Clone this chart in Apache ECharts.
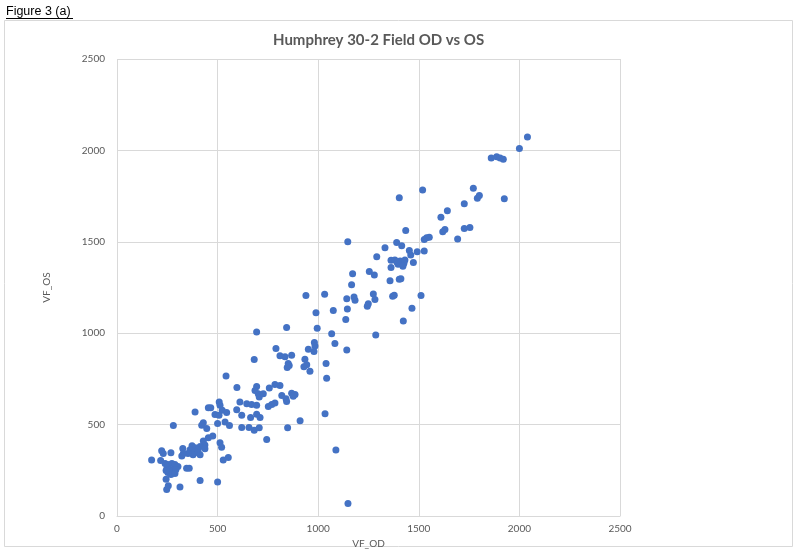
<!DOCTYPE html>
<html>
<head>
<meta charset="utf-8">
<script src="https://cdn.jsdelivr.net/npm/echarts@6/dist/echarts.min.js"></script>
<style>
  html, body { margin: 0; padding: 0; background: #fff; }
  #chart { width: 800px; height: 554px; }
</style>
</head>
<body>
<div id="chart"></div>
<script>
// VF_OD (x) and VF_OS (y), one entry per eye pair
const vfOD = [
  2040, 2000, 1860, 1887, 1904, 1920, 1771, 1791, 1801, 1925,
  1519, 1403, 1726, 1642, 1610, 1726, 1754, 1619, 1630, 1693,
  1435, 1527, 1539, 1552, 1390, 1415, 1332, 1453, 1492, 1527,
  1460, 1291, 1362, 1381, 1407, 1426, 1431, 1362, 1397, 1421,
  1392, 1473, 1254, 1279, 1357, 1403, 1411, 1274, 1282, 1370,
  1378, 1511, 1244, 1249, 1466, 1423, 1286, 1147, 1171, 1166,
  939, 1032, 1142, 1178, 1183, 989, 1075, 1145, 1137, 694,
  843, 995, 1067, 981, 984, 979, 951, 1083, 1142, 810,
  835, 868, 934, 929, 943, 959, 851, 846, 856, 1039,
  1042, 810, 868, 885, 876, 819, 840, 843, 1034, 910,
  848, 1088, 1148, 790, 682, 542, 596, 694, 686, 702,
  707, 727, 757, 785, 752, 769, 785, 611, 645, 669,
  694, 508, 512, 454, 466, 388, 523, 545, 487, 507,
  595, 620, 664, 694, 711, 429, 421, 446, 500, 537,
  559, 280, 620, 656, 682, 707, 744, 512, 520, 476,
  454, 429, 437, 413, 373, 388, 403, 363, 388, 378,
  403, 413, 437, 353, 327, 330, 322, 222, 230, 268,
  172, 217, 528, 553, 346, 359, 239, 253, 273, 288,
  303, 249, 263, 278, 293, 253, 268, 288, 244, 244,
  413, 500, 255, 247, 313
];
const vfOS = [
  2073, 2010, 1958, 1965, 1958, 1952, 1793, 1739, 1753, 1735,
  1784, 1741, 1708, 1670, 1634, 1573, 1579, 1555, 1567, 1515,
  1562, 1513, 1522, 1525, 1497, 1479, 1468, 1453, 1446, 1450,
  1428, 1419, 1399, 1401, 1395, 1383, 1401, 1360, 1377, 1367,
  1388, 1387, 1338, 1319, 1287, 1296, 1298, 1215, 1184, 1202,
  1208, 1206, 1148, 1162, 1137, 1067, 991, 1501, 1325, 1265,
  1206, 1213, 1189, 1198, 1181, 1112, 1124, 1133, 1075, 1007,
  1032, 1027, 998, 949, 931, 900, 913, 944, 909, 877,
  871, 880, 858, 817, 828, 792, 835, 813, 823, 835,
  754, 714, 672, 665, 655, 660, 642, 627, 560, 521,
  483, 362, 69, 916, 857, 766, 703, 709, 687, 669,
  651, 669, 700, 720, 600, 611, 618, 624, 614, 611,
  606, 624, 606, 593, 593, 569, 579, 566, 555, 552,
  582, 552, 539, 557, 539, 510, 497, 479, 506, 515,
  495, 495, 484, 484, 470, 483, 419, 401, 376, 438,
  428, 411, 389, 380, 385, 374, 363, 363, 352, 336,
  347, 336, 369, 342, 370, 343, 329, 358, 343, 347,
  307, 304, 307, 320, 262, 262, 287, 282, 287, 282,
  271, 266, 255, 249, 255, 239, 228, 233, 249, 202,
  195, 186, 166, 145, 159
];
const axisTicks = [0, 500, 1000, 1500, 2000, 2500];

const chart = echarts.init(document.getElementById('chart'));

const points = vfOD.map((od, i) => [od, vfOS[i]]);
const fontFamily = 'Lato, "Open Sans", sans-serif';
const grey = '#595959';

const option = {
  animation: false,
  backgroundColor: '#fff',
  title: {
    text: 'Humphrey 30-2 Field OD vs OS',
    left: 273,
    top: 33,
    padding: 0,
    textStyle: { fontFamily, fontSize: 15, fontWeight: 'bold', color: grey }
  },
  graphic: [
    {
      type: 'rect',
      shape: { x: 4.5, y: 20.5, width: 788, height: 526 },
      style: { fill: 'none', stroke: '#d9d9d9', lineWidth: 1 }
    },
    {
      type: 'text',
      x: 6, y: 5,
      style: {
        text: 'Figure 3 (a)',
        font: '12.5px "Liberation Sans", Arial, sans-serif',
        fill: '#000'
      }
    },
    {
      type: 'line',
      shape: { x1: 6, y1: 18.5, x2: 73, y2: 18.5 },
      style: { stroke: '#000', lineWidth: 1 }
    }
  ],
  grid: { left: 117, right: 180, top: 59, bottom: 34 },
  xAxis: {
    type: 'value',
    min: axisTicks[0],
    max: axisTicks[axisTicks.length - 1],
    interval: 500,
    name: 'VF_OD',
    nameLocation: 'middle',
    nameGap: 13,
    nameTextStyle: { fontFamily, fontSize: 10, color: grey, verticalAlign: 'top' },
    axisLine: { show: true, lineStyle: { color: '#d9d9d9' } },
    axisTick: { show: false },
    axisLabel: { fontFamily, fontSize: 10, color: grey, margin: 8, formatter: v => String(v) },
    splitLine: { show: true, lineStyle: { color: '#d9d9d9' } }
  },
  yAxis: {
    type: 'value',
    min: axisTicks[0],
    max: axisTicks[axisTicks.length - 1],
    interval: 500,
    name: 'VF_OS',
    nameLocation: 'middle',
    nameGap: 65,
    nameTextStyle: { fontFamily, fontSize: 10, color: grey },
    axisLine: { show: false },
    axisTick: { show: false },
    axisLabel: { fontFamily, fontSize: 10, color: grey, margin: 12, formatter: v => String(v) },
    splitLine: { show: true, lineStyle: { color: '#d9d9d9' } }
  },
  series: [{
    type: 'scatter',
    data: points,
    symbol: 'circle',
    symbolSize: 7,
    itemStyle: { color: '#4472c4', opacity: 1 }
  }]
};

chart.setOption(option);
</script>
</body>
</html>
